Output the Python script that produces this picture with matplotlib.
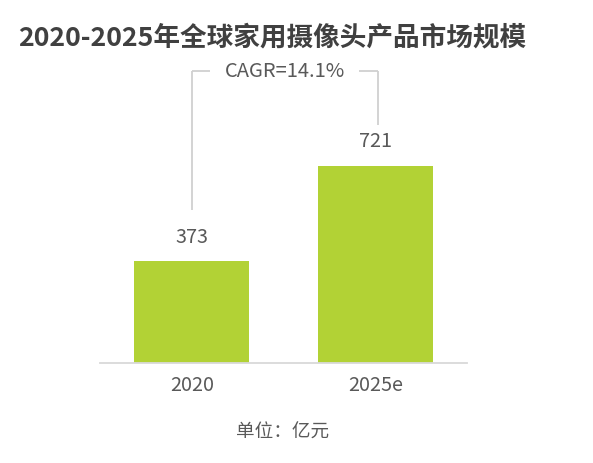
import matplotlib
matplotlib.use("Agg")
import matplotlib.pyplot as plt

plt.rcParams['font.family'] = ['Noto Sans CJK SC', 'DejaVu Sans']

categories = ["2020", "2025e"]
values = [373, 721]
title = "2020-2025年全球家用摄像头产品市场规模"
cagr_text = "CAGR=14.1%"
unit_text = "单位：亿元"

W, H = 593, 463
fig = plt.figure(figsize=(W / 100, H / 100), dpi=100)

base_px = 362.7
ax_left, ax_right, ax_top = 100, 467, 60
ax = fig.add_axes([ax_left / W, (H - base_px) / H, (ax_right - ax_left) / W, (base_px - ax_top) / H])
ax.set_xlim(-0.5, 1.5)
px_per_unit = 0.2735
ax.set_ylim(0, (base_px - ax_top) / px_per_unit)

green = "#B2D235"
txt = "#595959"
xs = list(range(len(categories)))
ax.bar(xs, values, width=0.625, color=green, zorder=2)

for x, v in zip(xs, values):
    ax.annotate(str(v), (x, v), xytext=(0, 17), textcoords="offset points",
                ha="center", va="center", fontsize=14.3, color=txt)

for s in ["top", "right", "left"]:
    ax.spines[s].set_visible(False)
ax.spines["bottom"].set_color("#D9D9D9")
ax.spines["bottom"].set_linewidth(1.3)
ax.set_yticks([])
ax.set_xticks(xs)
ax.set_xticklabels(categories, fontsize=14.3, color=txt)
ax.tick_params(axis="x", length=0, pad=9)

# CAGR bracket
lc = "#D0D0D0"
top_y = 1066
xl, xr = xs[0], xs[1] + 0.015
ax.plot([xl, xl], [values[0] + 185, top_y], color=lc, lw=1.3, solid_capstyle="butt")
ax.plot([xr, xr], [values[1] + 148, top_y], color=lc, lw=1.3, solid_capstyle="butt")
ax.plot([xl, xl + 0.10], [top_y, top_y], color=lc, lw=1.3, solid_capstyle="butt")
ax.plot([xr - 0.105, xr], [top_y, top_y], color=lc, lw=1.3, solid_capstyle="butt")
ax.text((xl + xr) / 2, top_y, cagr_text, ha="center", va="center",
        fontsize=14.5, color=txt)

fig.text(18 / W, 1 - 38 / H, title, ha="left", va="center", fontsize=19.2,
         fontweight="bold", color="#404040")
fig.text(283 / W, 1 - 433 / H, unit_text, ha="center", va="center",
         fontsize=13.4, color=txt)

fig.savefig("out.png", dpi=100)
